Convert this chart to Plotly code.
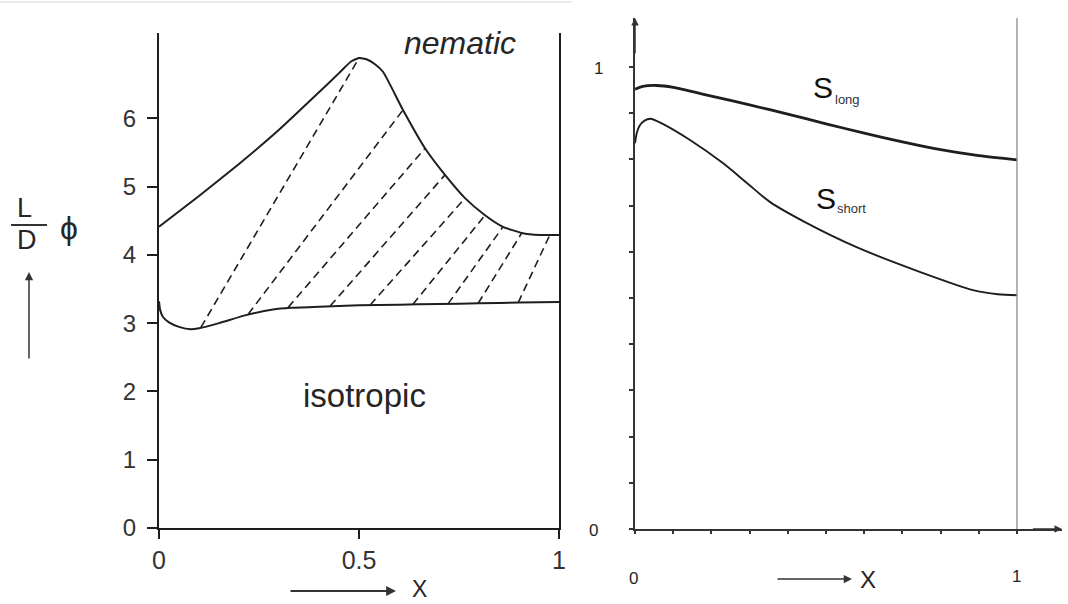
import plotly.graph_objects as go

# ---- Left panel: phase diagram, (L/D)*phi versus X ----
nematic_x = [0.0, 0.1, 0.2, 0.3, 0.4, 0.45, 0.48, 0.5, 0.52, 0.54,
             0.56, 0.61, 0.665, 0.715, 0.765, 0.815, 0.86, 0.907,
             0.952, 1.0]
nematic_y = [4.41, 4.86, 5.33, 5.83, 6.38, 6.66, 6.83, 6.88, 6.86, 6.79,
             6.68, 6.12, 5.56, 5.17, 4.83, 4.58, 4.41, 4.32,
             4.29, 4.29]

isotropic_x = [0.0, 0.003, 0.01, 0.025, 0.05, 0.08, 0.1, 0.15, 0.22, 0.285,
               0.33, 0.4, 0.5, 0.6, 0.7, 0.8, 0.9, 1.0]
isotropic_y = [3.32, 3.19, 3.09, 3.01, 2.945, 2.91, 2.925, 3.00, 3.12, 3.20,
               3.225, 3.24, 3.26, 3.27, 3.28, 3.29, 3.30, 3.31]

# tie lines across the two-phase region (isotropic end -> nematic end)
tie_x_iso = [0.105, 0.223, 0.323, 0.428, 0.528, 0.635, 0.723, 0.798, 0.898]
tie_y_iso = [2.94, 3.13, 3.23, 3.25, 3.265, 3.275, 3.285, 3.29, 3.30]
tie_x_nem = [0.5, 0.61, 0.665, 0.715, 0.765, 0.815, 0.86, 0.907, 0.977]
tie_y_nem = [6.88, 6.12, 5.56, 5.17, 4.83, 4.58, 4.41, 4.32, 4.29]

left_yticks = [0, 1, 2, 3, 4, 5, 6]
left_xticks = [0, 0.5, 1]
left_xticktext = ["0", "0.5", "1"]

# ---- Right panel: order parameters versus X ----
s_long_x = [0.0, 0.02, 0.057, 0.1, 0.2, 0.3, 0.4, 0.5, 0.6, 0.7, 0.8, 0.9, 1.0]
s_long_y = [0.952, 0.958, 0.960, 0.956, 0.937, 0.918, 0.898, 0.877, 0.857, 0.838,
            0.821, 0.808, 0.799]

s_short_x = [0.0, 0.005, 0.012, 0.025, 0.04, 0.07, 0.144, 0.23, 0.293, 0.353,
             0.45, 0.58, 0.754, 0.885, 0.95, 1.0]
s_short_y = [0.835, 0.858, 0.873, 0.884, 0.888, 0.878, 0.842, 0.792, 0.749, 0.708,
             0.662, 0.610, 0.554, 0.517, 0.508, 0.506]

right_ticks = [0.0, 0.1, 0.2, 0.3, 0.4, 0.5, 0.6, 0.7, 0.8, 0.9, 1.0]

W, H = 1068, 604
INK = "#1e1e1e"
FONT = "Liberation Sans, Arial, sans-serif"


def px(x):
    return x / W


def py(y):
    return 1 - y / H


fig = go.Figure()

curve = dict(color=INK, width=2, shape="spline", smoothing=0.5)
fig.add_trace(go.Scatter(x=nematic_x, y=nematic_y, mode="lines", line=curve,
                         xaxis="x", yaxis="y", hoverinfo="skip"))
fig.add_trace(go.Scatter(x=isotropic_x, y=isotropic_y, mode="lines", line=curve,
                         xaxis="x", yaxis="y", hoverinfo="skip"))
for x0, y0, x1, y1 in zip(tie_x_iso, tie_y_iso, tie_x_nem, tie_y_nem):
    fig.add_trace(go.Scatter(x=[x0, x1], y=[y0, y1], mode="lines",
                             line=dict(color=INK, width=1.6, dash="8px,5px"),
                             xaxis="x", yaxis="y", hoverinfo="skip"))

fig.add_trace(go.Scatter(x=s_long_x, y=s_long_y, mode="lines",
                         line=dict(color=INK, width=2.8, shape="spline", smoothing=0.8),
                         xaxis="x2", yaxis="y2", hoverinfo="skip"))
fig.add_trace(go.Scatter(x=s_short_x, y=s_short_y, mode="lines",
                         line=dict(color=INK, width=1.9, shape="spline", smoothing=0.8),
                         xaxis="x2", yaxis="y2", hoverinfo="skip"))

left_ytop = (528 - 33) / 68.3
right_xmax = (1062 - 635) / 382
right_ymax = (529 - 18) / 462

fig.update_layout(
    width=W, height=H,
    autosize=False,
    margin=dict(l=0, r=0, t=0, b=0, pad=0),
    paper_bgcolor="white", plot_bgcolor="white",
    showlegend=False,
    font=dict(family=FONT, color="#2a2a2a"),
    xaxis=dict(domain=[px(159), px(559)], range=[0, 1], anchor="y", automargin=False,
               tickvals=left_xticks, ticktext=left_xticktext,
               ticks="outside", ticklen=9, tickwidth=2, tickcolor=INK,
               showline=True, linewidth=2, linecolor=INK,
               showgrid=False, zeroline=False,
               tickfont=dict(size=25, color="#333")),
    yaxis=dict(domain=[py(528), py(33)], range=[0, left_ytop], anchor="x", automargin=False,
               tickvals=left_yticks,
               ticks="outside", ticklen=10, tickwidth=2, tickcolor=INK,
               showline=True, linewidth=2, linecolor=INK, mirror=True,
               showgrid=False, zeroline=False,
               ticklabelstandoff=6,
               tickfont=dict(size=24, color="#333")),
    xaxis2=dict(domain=[px(635), px(1062)], range=[0, right_xmax], anchor="y2", automargin=False,
                tickvals=right_ticks, showticklabels=False,
                ticks="outside", ticklen=3, tickwidth=1.5, tickcolor="#333",
                showline=True, linewidth=1.6, linecolor="#333",
                showgrid=False, zeroline=False),
    yaxis2=dict(domain=[py(529), py(18)], range=[0, right_ymax], anchor="x2", automargin=False,
                tickvals=right_ticks, showticklabels=False,
                ticks="outside", ticklen=4, tickwidth=1.5, tickcolor="#333",
                showline=True, linewidth=1.6, linecolor="#333",
                showgrid=False, zeroline=False),
)

# vertical line at X = 1 in the order-parameter panel
fig.add_shape(type="line", xref="x2", yref="y2", x0=1, x1=1, y0=0, y1=right_ymax,
              line=dict(color="#8a8a8a", width=1.3))
# faint rule along the top edge
fig.add_shape(type="line", xref="paper", yref="paper", x0=0, x1=px(572), y0=py(2), y1=py(2),
              line=dict(color="#ececec", width=2))
# fraction bar of L/D
fig.add_shape(type="line", xref="paper", yref="paper", x0=px(11), x1=px(47), y0=py(225), y1=py(225),
              line=dict(color="#333", width=2))

ann = []


def text(x, y, s, size, **kw):
    d = dict(x=px(x), y=py(y), xref="paper", yref="paper", text=s, showarrow=False,
             xanchor="center", yanchor="middle",
             font=dict(family=FONT, size=size, color=kw.pop("color", "#262626")))
    d.update(kw)
    ann.append(d)


def arrow(x_head, y_head, dx, dy, width=1.5):
    ann.append(dict(x=px(x_head), y=py(y_head), xref="paper", yref="paper", text="",
                    showarrow=True, ax=dx, ay=dy, arrowhead=2, arrowsize=1.1,
                    arrowwidth=width, arrowcolor="#333"))


text(460, 43, "<i>nematic</i>", 32)
text(364, 395, "isotropic", 33)
text(24, 208, "L", 27)
text(27, 240, "D", 27)
text(69, 228, "ϕ", 32)
arrow(29, 272, 0, 88)
arrow(396, 591, -107, 0, width=1.8)
text(419, 589, "X", 23)

text(823, 88, "S", 30, color="#111")
text(847, 100, "long", 13, color="#333")
text(826, 199, "S", 30, color="#111")
text(851, 209, "short", 13, color="#333")

text(598, 68, "1", 17)
text(593, 530, "0", 17)
text(633, 578, "0", 17)
text(1016, 576, "1", 17)
arrow(852, 579, -76, 0)
text(868, 579, "X", 24)

# arrowheads on the order-parameter axes
ann.append(dict(x=0, y=right_ymax, xref="x2", yref="y2", ax=0, ay=right_ymax - 0.08,
                axref="x2", ayref="y2", text="", showarrow=True, arrowhead=2,
                arrowsize=1, arrowwidth=1.5, arrowcolor="#333"))
ann.append(dict(x=right_xmax, y=0, xref="x2", yref="y2", ax=right_xmax - 0.08, ay=0,
                axref="x2", ayref="y2", text="", showarrow=True, arrowhead=2,
                arrowsize=1, arrowwidth=1.5, arrowcolor="#333"))

fig.update_layout(annotations=ann)

fig.write_html("out.html")
